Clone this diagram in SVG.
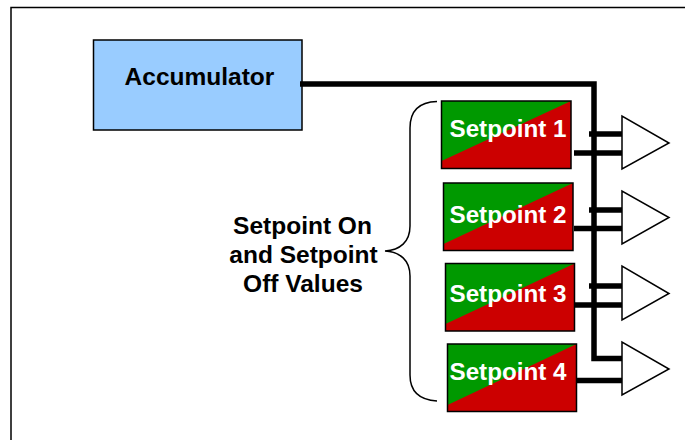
<svg xmlns="http://www.w3.org/2000/svg" width="685" height="440" viewBox="0 0 685 440">
<style>
.sp{stroke:#000;stroke-width:1.5}
.g{fill:#009900}
.r{fill:#cc0000}
.b{fill:none;stroke:#000;stroke-width:1.5}
.w{fill:none;stroke:#000;stroke-width:5.500}
.t{fill:#fff;stroke:#000;stroke-width:1.5}
text{font-family:"Liberation Sans",Arial,sans-serif;font-weight:700}
.l{font-size:24.200px;fill:#fff;text-anchor:middle}
.d{font-size:24.500px;fill:#000;text-anchor:middle}
</style>
<rect width="685" height="440" fill="#fff"/>
<path d="M11 440V7.500H685" class="b"/>
<g id="accumulator">
<rect x="93.500" y="40" width="208.500" height="90" fill="#99ccff" stroke="#000" stroke-width="1.500"/>
<text x="199.500" y="85" class="d">Accumulator</text>
</g>
<g id="brace">
<path class="b" d="M437 101.500C420 102 410 110 410 128V226C410 242 400 250 385 251C400 252 410 260 410 276V375C410 392 420 400 437 401"/>
<text x="302.500" y="234" class="d">Setpoint On</text>
<text x="303.500" y="263" class="d">and Setpoint</text>
<text x="303" y="292" class="d">Off Values</text>
</g>
<g id="setpoint-1">
<rect x="441.500" y="101" width="129.500" height="67.500" class="r"/>
<path d="M441.500 161V101H571Z" class="g"/>
<rect x="441.500" y="101" width="129.500" height="67.500" fill="none" class="sp"/>
<text x="508" y="137" class="l">Setpoint 1</text>
</g>
<g id="setpoint-2">
<rect x="443.500" y="183" width="129.500" height="67.500" class="r"/>
<path d="M443.500 244V183H573Z" class="g"/>
<rect x="443.500" y="183" width="129.500" height="67.500" fill="none" class="sp"/>
<text x="508" y="223" class="l">Setpoint 2</text>
</g>
<g id="setpoint-3">
<rect x="445.500" y="263.500" width="129" height="67.500" class="r"/>
<path d="M445.500 324V263.500H574.500Z" class="g"/>
<rect x="445.500" y="263.500" width="129" height="67.500" fill="none" class="sp"/>
<text x="508" y="301.500" class="l">Setpoint 3</text>
</g>
<g id="setpoint-4">
<rect x="447.500" y="344" width="129" height="67.500" class="r"/>
<path d="M447.500 405V344H576.500Z" class="g"/>
<rect x="447.500" y="344" width="129" height="67.500" fill="none" class="sp"/>
<text x="508" y="379.500" class="l">Setpoint 4</text>
</g>
<g id="connectors">
<path class="w" d="M300 84H594V358.500H622"/>
<path class="w" d="M589 134H622M574 153H622M589 210H622M574 228.500H622M589 286H622M574 305H622M577 380.500H622"/>
</g>
<g id="comparator-1"><path d="M622 116V169L669 143Z" class="t"/></g>
<g id="comparator-2"><path d="M622 191V244L669 217.500Z" class="t"/></g>
<g id="comparator-3"><path d="M622 266V320L669 293.500Z" class="t"/></g>
<g id="comparator-4"><path d="M622 342V395L669 369Z" class="t"/></g>
</svg>
